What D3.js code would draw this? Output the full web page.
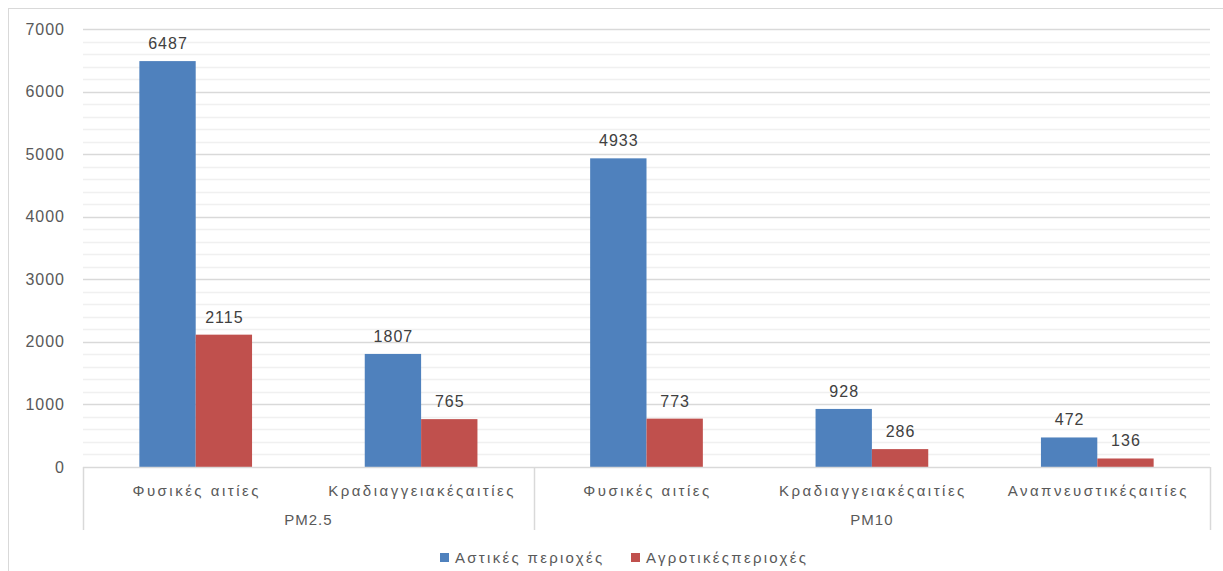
<!DOCTYPE html>
<html>
<head>
<meta charset="utf-8">
<script src="https://cdn.jsdelivr.net/npm/d3@7"></script>
<style>
  html, body { margin: 0; padding: 0; background: #fff; }
  svg { display: block; font-family: "Liberation Sans", "Open Sans", sans-serif; }
</style>
</head>
<body>
<svg id="chart" width="1223" height="571"></svg>
<script>
// Health outcomes attributed to particulate matter, urban vs rural areas
const groups = ["PM2.5", "PM10"];
const causesByGroup = [
  ["Φυσικές αιτίες", "Κραδιαγγειακέςαιτίες"],
  ["Φυσικές αιτίες", "Κραδιαγγειακέςαιτίες", "Αναπνευστικέςαιτίες"]
];
const seriesNames = ["Αστικές περιοχές", "Αγροτικέςπεριοχές"];
const urbanValues = [6487, 1807, 4933, 928, 472];
const ruralValues = [2115, 765, 773, 286, 136];
const yTicks = [0, 1000, 2000, 3000, 4000, 5000, 6000, 7000];
const colors = ["#4F81BD", "#C0504D"];

const rows = [];
causesByGroup.forEach((causes, gi) => {
  causes.forEach(c => rows.push({ group: groups[gi], cause: c }));
});
rows.forEach((r, i) => { r.key = i; r.values = [urbanValues[i], ruralValues[i]]; });

const svg = d3.select("#chart");
const margin = { left: 83, right: 13, top: 29, bottom: 104 };
const W = 1223, H = 571;
const x0 = margin.left, x1 = W - margin.right;
const yBottom = H - margin.bottom;

// outer frame
svg.append("rect")
  .attr("x", 8.5).attr("y", 8.5)
  .attr("width", W).attr("height", H)
  .attr("fill", "none").attr("stroke", "#D9D9D9").attr("stroke-width", 1);

const y = d3.scaleLinear().domain([0, 7000]).range([yBottom, margin.top]);
const xCat = d3.scaleBand().domain(rows.map(r => r.key)).range([x0, x1]).padding(0);
const xSer = d3.scaleBand().domain([0, 1])
  .range([xCat.bandwidth() * 0.25, xCat.bandwidth() * 0.75]).padding(0);

// minor gridlines
const minor = d3.range(200, 7000, 200).filter(v => v % 1000 !== 0);
svg.append("g").selectAll("line").data(minor).join("line")
  .attr("x1", x0).attr("x2", x1)
  .attr("y1", d => Math.round(y(d)) + 0.5).attr("y2", d => Math.round(y(d)) + 0.5)
  .attr("stroke", "#F0F0F0").attr("stroke-width", 1.5);

// major gridlines
svg.append("g").selectAll("line").data(yTicks.slice(1)).join("line")
  .attr("x1", x0).attr("x2", x1)
  .attr("y1", d => Math.round(y(d)) + 0.5).attr("y2", d => Math.round(y(d)) + 0.5)
  .attr("stroke", "#D9D9D9").attr("stroke-width", 1.5);

// y axis labels
const yAxis = d3.axisLeft(y).tickValues(yTicks).tickSize(0).tickPadding(18).tickFormat(d3.format("d"));
const ya = svg.append("g").attr("transform", `translate(${x0},0)`).call(yAxis);
ya.select(".domain").remove();
ya.selectAll("text").attr("fill", "#595959").attr("font-size", 16)
  .attr("letter-spacing", 1)
  .attr("font-family", "Liberation Sans, sans-serif");

// bars
const cat = svg.append("g").selectAll("g").data(rows).join("g")
  .attr("transform", d => `translate(${xCat(d.key)},0)`);
cat.selectAll("rect").data(d => d.values.map((v, i) => ({ v, i }))).join("rect")
  .attr("x", d => xSer(d.i))
  .attr("width", xSer.bandwidth())
  .attr("y", d => y(d.v))
  .attr("height", d => y(0) - y(d.v))
  .attr("fill", d => colors[d.i]);

// data labels
cat.selectAll("text").data(d => d.values.map((v, i) => ({ v, i }))).join("text")
  .attr("x", d => xSer(d.i) + xSer.bandwidth() / 2 + 0.5)
  .attr("y", d => y(d.v) - 12)
  .attr("text-anchor", "middle")
  .attr("font-size", 16)
  .attr("letter-spacing", 1)
  .attr("fill", "#404040")
  .text(d => d.v);

// category axis: baseline and group separators
const axisG = svg.append("g");
axisG.append("line")
  .attr("x1", x0).attr("x2", x1)
  .attr("y1", y(0) + 0.5).attr("y2", y(0) + 0.5)
  .attr("stroke", "#D9D9D9").attr("stroke-width", 1.5);

let start = 0;
const groupSpans = causesByGroup.map((c, gi) => {
  const s = { name: groups[gi], from: xCat(start), to: xCat(start + c.length - 1) + xCat.bandwidth() };
  start += c.length;
  return s;
});
const bounds = [x0].concat(groupSpans.map(s => s.to));
axisG.selectAll("line.sep").data(bounds).join("line").attr("class", "sep")
  .attr("x1", d => Math.round(d) + 0.5).attr("x2", d => Math.round(d) + 0.5)
  .attr("y1", y(0)).attr("y2", y(0) + 63)
  .attr("stroke", "#D9D9D9").attr("stroke-width", 1.5);

// cause labels
axisG.selectAll("text.cause").data(rows).join("text").attr("class", "cause")
  .attr("x", d => xCat(d.key) + xCat.bandwidth() / 2 + 1)
  .attr("y", y(0) + 29)
  .attr("text-anchor", "middle")
  .attr("font-size", 15)
  .attr("letter-spacing", 2.5)
  .attr("fill", "#595959")
  .text(d => d.cause);

// group labels
axisG.selectAll("text.grp").data(groupSpans).join("text").attr("class", "grp")
  .attr("x", d => (d.from + d.to) / 2)
  .attr("y", y(0) + 58)
  .attr("text-anchor", "middle")
  .attr("font-size", 15)
  .attr("letter-spacing", 1)
  .attr("fill", "#595959")
  .text(d => d.name);

// legend
const legendX = [440, 631];
const lg = svg.append("g").selectAll("g").data(seriesNames).join("g")
  .attr("transform", (d, i) => `translate(${legendX[i]},553)`);
lg.append("rect").attr("width", 9).attr("height", 9).attr("fill", (d, i) => colors[i]);
lg.append("text").attr("x", 15).attr("y", 10)
  .attr("font-size", 15).attr("letter-spacing", 2.3).attr("fill", "#595959")
  .text(d => d);
</script>
</body>
</html>
